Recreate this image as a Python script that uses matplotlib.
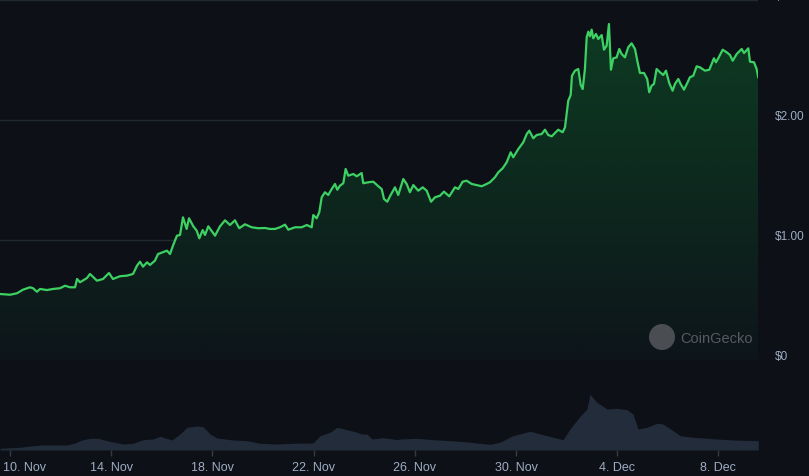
import numpy as np
import pandas as pd
import matplotlib
matplotlib.use("Agg")
import matplotlib.pyplot as plt
import matplotlib.transforms as mtransforms
from matplotlib.patches import Circle

# ---- data: hours after 2024-11-10 00:00 and price in USD ----
price_hours = [-9.5, 0, 6.6, 12.3, 19.0, 21.8, 25.6, 28.5, 35.1, 40.8, 47.4, 52.2, 56.9, 61.7,
               63.6, 66.4, 73.0, 75.9, 82.5, 88.2, 93.9, 97.7, 104.3, 111.0, 116.7, 120.5,
               123.3, 126.2, 130.0, 132.8, 137.5, 140.4, 145.1, 148.9, 151.8, 154.6, 158.4,
               161.3, 164.1, 167.6, 169.8, 173.9, 177.1, 179.6, 182.8, 185.0, 188.1, 194.5,
               199.2, 204.0, 208.7, 213.4, 217.5, 222.9, 229.3, 235.5, 241.9, 246.6, 251.4,
               256.1, 260.9, 264.0, 270.4, 276.7, 281.5, 286.2, 287.7, 290.9, 293.4, 295.7,
               298.8, 301.9, 305.2, 308.3, 310.5, 313.0, 316.2, 318.4, 320.9, 325.7, 328.9,
               333.6, 335.1, 339.9, 344.6, 349.4, 352.6, 354.8, 357.9, 361.1, 365.2, 368.3,
               373.1, 376.3, 379.4, 382.6, 387.3, 391.5, 395.3, 399.4, 403.2, 407.9, 411.7,
               416.7, 422.1, 425.3, 429.4, 433.2, 438.0, 442.7, 447.5, 452.2, 455.3, 460.1,
               463.2, 467.4, 471.2, 475.0, 477.4, 482.2, 486.9, 490.2, 492.6, 496.4, 499.6,
               504.4, 507.5, 510.6, 513.9, 517.0, 520.1, 524.3, 526.5, 528.7, 529.6, 531.9,
               533.1, 536.0, 539.1, 541.4, 543.3, 545.4, 547.1, 548.6, 550.2, 551.8, 553.3,
               555.9, 558.1, 561.3, 563.5, 566.0, 568.2, 569.2, 570.1, 572.3, 575.5, 578.0,
               580.2, 583.4, 586.5, 589.7, 592.9, 595.4, 597.6, 601.4, 604.5, 606.4, 608.7,
               610.9, 613.4, 616.6, 619.7, 622.3, 625.4, 628.6, 630.8, 634.0, 636.2, 639.4,
               642.5, 645.0, 648.2, 651.4, 654.5, 659.3, 663.4, 667.8, 669.7, 671.9, 676.1,
               679.9, 683.0, 685.6, 689.4, 694.1, 696.3, 700.4, 702.0, 705.8, 708.3, 709.8]
price_usd = [0.550, 0.544, 0.556, 0.586, 0.606, 0.598, 0.569, 0.592, 0.583, 0.592, 0.598, 0.619,
             0.606, 0.606, 0.675, 0.648, 0.683, 0.717, 0.661, 0.675, 0.725, 0.675, 0.698, 0.703,
             0.717, 0.786, 0.819, 0.778, 0.814, 0.792, 0.828, 0.883, 0.898, 0.911, 0.883, 0.953,
             1.036, 1.042, 1.189, 1.092, 1.181, 1.114, 1.078, 1.014, 1.083, 1.042, 1.114, 1.036,
             1.114, 1.164, 1.125, 1.164, 1.098, 1.131, 1.106, 1.098, 1.100, 1.092, 1.092, 1.106,
             1.128, 1.086, 1.106, 1.106, 1.125, 1.106, 1.208, 1.181, 1.231, 1.356, 1.398, 1.375,
             1.425, 1.467, 1.419, 1.453, 1.473, 1.592, 1.536, 1.550, 1.531, 1.558, 1.473, 1.481,
             1.486, 1.448, 1.425, 1.342, 1.319, 1.375, 1.439, 1.375, 1.508, 1.467, 1.398, 1.458,
             1.411, 1.439, 1.411, 1.319, 1.356, 1.369, 1.403, 1.364, 1.439, 1.425, 1.486, 1.494,
             1.467, 1.458, 1.448, 1.467, 1.481, 1.523, 1.564, 1.598, 1.648, 1.731, 1.689, 1.758,
             1.814, 1.883, 1.911, 1.848, 1.875, 1.883, 1.919, 1.875, 1.864, 1.892, 1.919, 1.898,
             1.939, 2.092, 2.161, 2.208, 2.369, 2.411, 2.425, 2.292, 2.258, 2.425, 2.689, 2.736,
             2.698, 2.753, 2.681, 2.717, 2.675, 2.708, 2.586, 2.619, 2.800, 2.592, 2.419, 2.514,
             2.522, 2.592, 2.550, 2.522, 2.606, 2.639, 2.592, 2.481, 2.392, 2.392, 2.342, 2.231,
             2.286, 2.300, 2.425, 2.398, 2.375, 2.411, 2.308, 2.244, 2.300, 2.342, 2.300, 2.253,
             2.308, 2.356, 2.369, 2.447, 2.439, 2.411, 2.419, 2.514, 2.481, 2.514, 2.586, 2.564,
             2.542, 2.494, 2.550, 2.592, 2.558, 2.597, 2.486, 2.481, 2.425, 2.356]

volume_hours = [-9.5, 9.5, 21.8, 31.3, 54.1, 61.7, 68.3, 75.9, 83.5, 92.0, 107.2, 116.7, 126.2,
                135.6, 142.3, 153.7, 161.3, 167.9, 177.4, 183.1, 189.7, 196.4, 211.5, 224.8,
                237.2, 253.3, 268.5, 287.5, 294.1, 303.6, 310.2, 319.7, 327.3, 333.9, 338.7,
                343.4, 353.8, 368.1, 370.0, 386.1, 401.3, 426.9, 455.3, 464.8, 477.1, 493.3,
                509.4, 524.6, 531.3, 540.7, 547.3, 550.2, 556.8, 566.3, 575.8, 585.3, 591.0,
                595.7, 604.3, 613.7, 619.4, 629.0, 635.6, 648.0, 670.7, 685.8, 709.8]
volume_rel = [1.7, 2.7, 4.3, 5, 5, 7, 10, 11.7, 11.7, 9.3, 6, 6.7, 10.3, 11, 13.7, 10, 16, 22.7,
              24, 23.3, 16, 12, 10, 9.3, 6.7, 6, 6.7, 7, 14.3, 17.7, 22.7, 20.3, 18.3, 16, 16, 11,
              12.3, 10.3, 11, 11.7, 10.3, 8.7, 5.7, 7.7, 14.3, 18.7, 14.3, 10.3, 21, 33.7, 41,
              55.7, 47.7, 41, 41.7, 40.3, 36, 21, 22.7, 26.7, 26, 19.3, 14.3, 12.7, 11, 10, 9.3]

tick_days = [0, 4, 8, 12, 16, 20, 24, 28]
tick_labels = ["10. Nov", "14. Nov", "18. Nov", "22. Nov", "26. Nov", "30. Nov", "4. Dec", "8. Dec"]
y_ticks = [0, 1, 2, 3]
y_labels = ["$0", "$1.00", "$2.00", "$3.00"]

# ---- style ----
BG = "#0d1117"
GRID = "#222931"
LINE = "#3dd163"
TXT = "#9eadc4"
VOL = "#232c3a"
FONT = ["Liberation Sans", "DejaVu Sans"]
plt.rcParams["font.family"] = FONT

W, H = 809, 477
PT = 72 / 100  # points per pixel
fig = plt.figure(figsize=(W / 100, H / 100), dpi=100, facecolor=BG)

x_lo, x_hi = -9.49, 709.6
ax = fig.add_axes([0, (H - 361) / H, 758 / W, 360 / H], facecolor=BG)
axv = fig.add_axes([0, (H - 451) / H, 758 / W, 86 / H], facecolor=BG)

ph = np.array(price_hours)
pv = np.array(price_usd)

# gradient fill under price line
poly = ax.fill_between(ph, pv, 0, color="none", lw=0)
grad = np.linspace(0, 1, 256).reshape(-1, 1)
c_top = np.array(matplotlib.colors.to_rgb("#0d3b22"))
c_bot = np.array(matplotlib.colors.to_rgb("#0d151a"))
img = c_bot + (c_top - c_bot) * grad[..., None] * np.ones((1, 2, 1))
im = ax.imshow(img, extent=[x_lo, x_hi, 0, 2.8], origin="lower", aspect="auto", zorder=1)
path = poly.get_paths()[0]
im.set_clip_path(path, transform=ax.transData)

for yt in y_ticks:
    ax.axhline(yt, color=GRID, lw=1, zorder=0.5)
ax.plot(ph, pv, color=LINE, lw=1.6, zorder=3, solid_joinstyle="round")

ax.set_xlim(x_lo, x_hi)
ax.set_ylim(0, 3.0)
for s in ax.spines.values():
    s.set_visible(False)
ax.set_xticks([])
ax.yaxis.tick_right()
ax.set_yticks(y_ticks)
ax.set_yticklabels(y_labels)
ax.tick_params(axis="y", length=0, pad=17 * PT, colors=TXT, labelsize=8.5)
offset = mtransforms.ScaledTranslation(0, 5 / 100, fig.dpi_scale_trans)
for lab in ax.get_yticklabels():
    lab.set_transform(lab.get_transform() + offset)
    lab.set_clip_on(False)

# CoinGecko watermark
cx, cy = 662, 338
fig.patches.append(Circle((cx / 100, (H - cy) / 100), 0.13, transform=fig.dpi_scale_trans,
                          facecolor="#4a4d52", edgecolor="none", zorder=4))
fig.text(680 / W, 1 - 339 / H, "CoinGecko", color="#575a5f", fontsize=10.5,
         va="center", ha="left")

# volume
axv.fill_between(volume_hours, volume_rel, 0, color=VOL, lw=0)
axv.set_xlim(x_lo, x_hi)
axv.set_ylim(0, 86)
for s in axv.spines.values():
    s.set_visible(False)
axv.set_yticks([])
axv.set_xticks([d * 24 for d in tick_days])
axv.set_xticklabels(tick_labels)
axv.tick_params(axis="x", length=4, width=1, color="#333b47", colors=TXT, labelsize=9, pad=4)
lab0 = axv.get_xticklabels()[0]
lab0.set_horizontalalignment("left")
lab0.set_transform(lab0.get_transform() + mtransforms.ScaledTranslation(-7 / 100, 0, fig.dpi_scale_trans))

fig.savefig("out.png", dpi=100, facecolor=BG)
